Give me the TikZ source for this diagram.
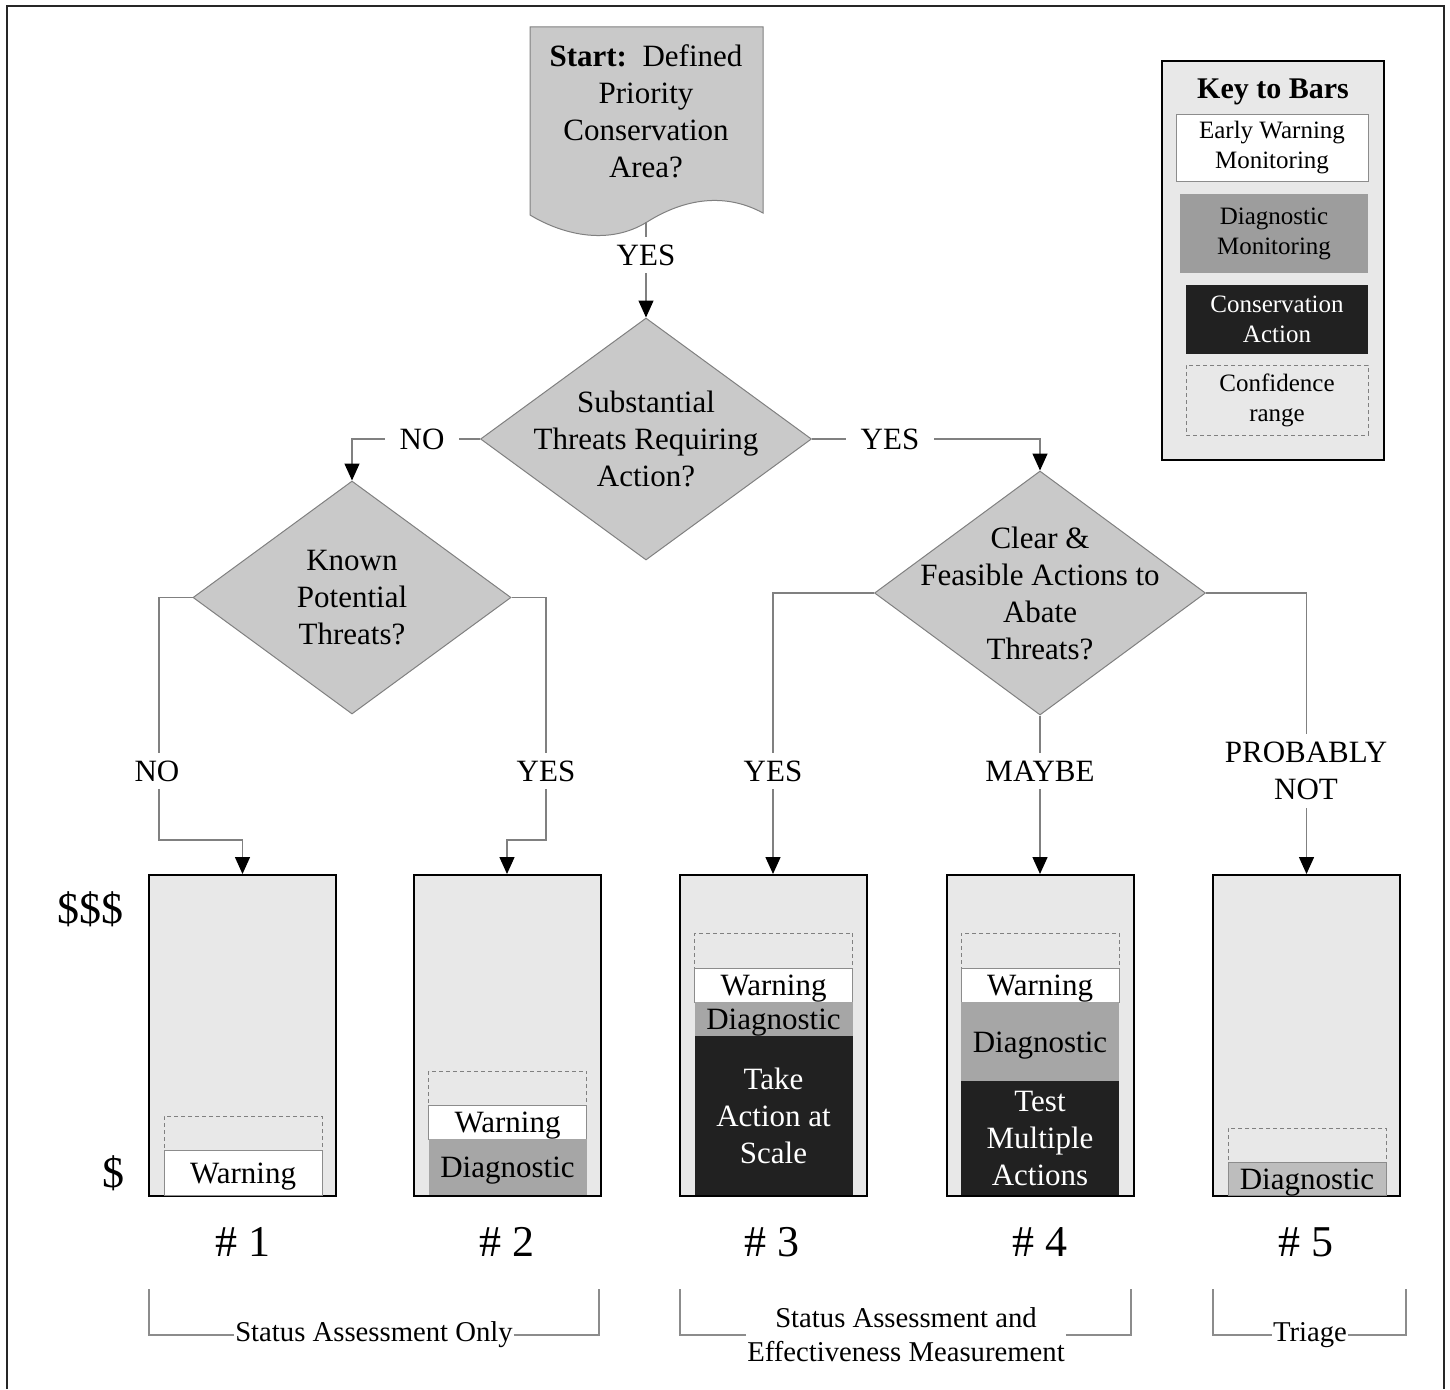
\documentclass[tikz,border=0pt]{standalone}
\usepackage{fontspec}
\setmainfont{Liberation Serif}
\usetikzlibrary{shapes.geometric,arrows.meta}
\definecolor{diafill}{gray}{0.79}
\definecolor{barbg}{gray}{0.91}
\definecolor{diagfill}{gray}{0.65}
\definecolor{diaglight}{gray}{0.74}
\definecolor{actfill}{gray}{0.13}
\definecolor{linegray}{gray}{0.5}
\newcommand\fmain{\fontsize{31}{37}\selectfont}
\newcommand\fkeytxt{\fontsize{25}{30}\selectfont}
\newcommand\fbignum{\fontsize{44}{50}\selectfont}
\newcommand\fbrk{\fontsize{28.7}{34}\selectfont}
\tikzset{
  txt/.style={align=center, font=\fmain, inner sep=0pt},
  lbl/.style={txt, fill=white, inner xsep=15pt, inner ysep=8pt},
  dia/.style={diamond, draw=linegray, line width=1pt, fill=diafill, inner sep=0pt},
  conn/.style={draw=linegray, line width=1.4pt, -{Triangle[length=17pt,width=15pt,color=black]}},
  frameline/.style={draw=black!85, line width=2.5pt},
  docshape/.style={draw=linegray, line width=1pt, fill=diafill},
  barbox/.style={draw=black, line width=2pt, fill=barbg, minimum width=187pt, minimum height=321pt, inner sep=0pt},
  seg/.style={txt, minimum width=158pt, line width=0.8pt},
  oneline/.style={text height=21pt, text depth=0pt},
  warnseg/.style={seg, oneline, fill=white, draw=black!45},
  diagseg/.style={seg, fill=diagfill},
  diaglseg/.style={seg, oneline, fill=diaglight, draw=black!45},
  actseg/.style={seg, fill=actfill, text=white},
  confseg/.style={seg, draw=black!50, dash pattern=on 4pt off 3pt},
  keybox/.style={draw=black, line width=2pt, fill=barbg, inner sep=0pt},
  keyseg/.style={align=center, font=\fkeytxt, inner sep=0pt, line width=0.8pt},
  numlbl/.style={font=\fbignum, inner sep=0pt},
  btxt/.style={align=center, font=\fbrk, inner xsep=1pt, inner ysep=0pt},
  brk/.style={draw=black!45, line width=1.4pt},
}
\begin{document}
\begin{tikzpicture}[x=1pt,y=-1pt]
\useasboundingbox (0,0) rectangle (1450,1389);
\draw[frameline] (7,1389) -- (7,6) -- (1444,6) -- (1444,1389);

% start document shape
\draw[docshape] (530,27) -- (763,27) -- (763,213) .. controls (730,195) and (690,195) .. (647,222) .. controls (610,245) and (565,236) .. (530,215) -- cycle;
\node[txt] (start) at (646,111) {\textbf{Start:}\ \ Defined\\Priority\\Conservation\\Area?};
\coordinate (startout) at (646,222);

% decisions
\node[dia, minimum width=331pt, minimum height=242pt] (d1) at (646,439) {};
\node[txt] (d1t) at (d1) {Substantial\\Threats Requiring\\Action?};
\node[dia, minimum width=318pt, minimum height=233pt] (d2) at (352,597.5) {};
\node[txt] (d2t) at (d2) {Known\\Potential\\Threats?};
\node[dia, minimum width=331pt, minimum height=244pt] (d3) at (1040,593) {};
\node[txt] (d3t) at (d3) {Clear \&\\Feasible Actions to\\Abate\\Threats?};

% bars
\node[barbox] (b1) at (242.5,1035.5) {};
\node[barbox] (b2) at (507,1035.5) {};
\node[barbox] (b3) at (773,1035.5) {};
\node[barbox] (b4) at (1040,1035.5) {};
\node[barbox] (b5) at (1306.5,1035.5) {};

% connectors
\draw[conn] (startout) -- (d1.north);
\node[lbl] (lyes0) at (646,255) {YES};
\draw[conn] (d1.west) -| (d2.north);
\node[lbl] (lno1) at (422,439) {NO};
\draw[conn] (d1.east) -| (d3.north);
\node[lbl] (lyes1) at (890,439) {YES};
\draw[conn] (d2.west) -| (159,840) -| (b1.north);
\node[lbl] (lno2) at (157,771) {NO};
\draw[conn] (d2.east) -| (546,840) -| (b2.north);
\node[lbl] (lyes2) at (546,771) {YES};
\draw[conn] (d3.west) -| (b3.north);
\node[lbl] (lyes3) at (773,771) {YES};
\draw[conn] (d3.south) -- (b4.north);
\node[lbl] (lmaybe) at (1040,771) {MAYBE};
\draw[conn] (d3.east) -| (b5.north);
\node[lbl] (lprob) at (1306,771) {PROBABLY\\NOT};

% bar 1
\node[confseg, minimum height=34pt] (c1) at (243,1133) {};
\node[warnseg, minimum height=45pt] (w1) at (243,1172.5) {Warning};
% bar 2
\node[confseg, minimum height=34pt] (c2) at (507.5,1088) {};
\node[warnseg, minimum height=34pt] (w2) at (507.5,1122) {Warning};
\node[diagseg, oneline, minimum height=56pt] (g2) at (507.5,1167) {Diagnostic};
% bar 3
\node[confseg, minimum height=35pt] (c3) at (773.5,950.5) {};
\node[warnseg, minimum height=34pt] (w3) at (773.5,985) {Warning};
\node[diagseg, oneline, minimum height=34pt] (g3) at (773.5,1019) {Diagnostic};
\node[actseg, minimum height=159pt] (a3) at (773.5,1115.5) {Take\\Action at\\Scale};
% bar 4
\node[confseg, minimum height=35pt] (c4) at (1040,950.5) {};
\node[warnseg, minimum height=34pt] (w4) at (1040,985) {Warning};
\node[diagseg, oneline, minimum height=79pt] (g4) at (1040,1041.5) {Diagnostic};
\node[actseg, minimum height=114pt] (a4) at (1040,1138) {Test\\Multiple\\Actions};
% bar 5
\node[confseg, minimum height=34pt] (c5) at (1307,1145) {};
\node[diaglseg, minimum height=33pt] (g5) at (1307,1178.5) {Diagnostic};

% cost axis
\node[numlbl] (cost3) at (90,909) {\$\$\$};
\node[numlbl] (cost1) at (113,1173) {\$};

% bar numbers
\node[numlbl] (n1) at (243,1242) {\# 1};
\node[numlbl] (n2) at (507,1242) {\# 2};
\node[numlbl] (n3) at (772,1242) {\# 3};
\node[numlbl] (n4) at (1040,1242) {\# 4};
\node[numlbl] (n5) at (1306,1242) {\# 5};

% group brackets
\node[btxt] (gr1) at (374,1335) {Status Assessment Only};
\draw[brk] (gr1.west) -| (149,1289);
\draw[brk] (gr1.east) -| (599,1289);
\node[btxt] (gr2) at (906,1335) {Status Assessment and\\Effectiveness Measurement};
\draw[brk] (gr2.west) -| (680,1289);
\draw[brk] (gr2.east) -| (1131,1289);
\node[btxt] (gr3) at (1310,1335) {Triage};
\draw[brk] (gr3.west) -| (1213,1289);
\draw[brk] (gr3.east) -| (1406,1289);

% key
\node[keybox, minimum width=222pt, minimum height=399pt] (key) at (1273,260.5) {};
\node[txt, font=\fontsize{30}{36}\selectfont\bfseries] (keyt) at (1273,92) {Key to Bars};
\node[keyseg, fill=white, draw=black!45, minimum width=192pt, minimum height=67pt] (kw) at (1272,147.5) {Early Warning\\Monitoring};
\node[keyseg, fill=diagfill!110, minimum width=188pt, minimum height=79pt] (kd) at (1274,233.5) {Diagnostic\\Monitoring};
\node[keyseg, fill=actfill, text=white, minimum width=182pt, minimum height=69pt] (ka) at (1277,319.5) {Conservation\\Action};
\node[keyseg, draw=black!50, dash pattern=on 4pt off 3pt, minimum width=182pt, minimum height=70pt] (kc) at (1277,400) {Confidence\\range};
\end{tikzpicture}
\end{document}
